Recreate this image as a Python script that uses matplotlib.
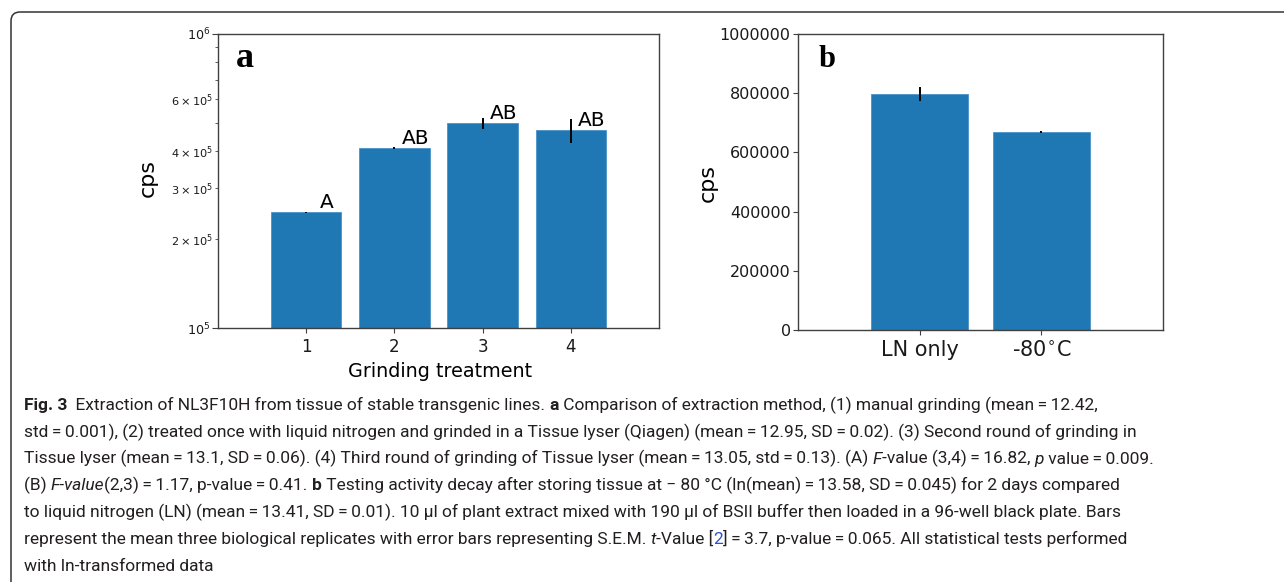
import matplotlib
matplotlib.use('Agg')
import matplotlib.pyplot as plt
from matplotlib.patches import FancyBboxPatch
from matplotlib import font_manager
from matplotlib.ticker import FixedLocator, FuncFormatter

# panel a: grinding treatments (log scale)
a_treatments = [1, 2, 3, 4]
a_means = [248000, 410000, 497000, 470000]
a_errors = [1000, 4000, 22000, 45000]
a_letters = ['A', 'AB', 'AB', 'AB']

# panel b: storage
b_labels = ['LN only', '-80$^{\\circ}$C']
b_means = [797000, 668000]
b_errors = [24500, 4000]
b_yticks = [0, 200000, 400000, 600000, 800000, 1000000]

W, H = 1284, 582
fig = plt.figure(figsize=(W / 100, H / 100), dpi=100)

BLUE = '#1f77b4'
SPINE = '#404040'

# ---- panel a ----
axa = fig.add_axes([218 / W, 1 - 328 / H, 441 / W, 294 / H])
axa.bar(a_treatments, a_means, width=0.8, color=BLUE, edgecolor='#4a92c8', linewidth=0.6)
axa.errorbar(a_treatments, a_means, yerr=a_errors, fmt='none', ecolor='black', elinewidth=1.4)
for x, y, lab in zip(a_treatments, a_means, a_letters):
    axa.text(x + 0.235, y, lab, ha='center', va='bottom', fontsize=14.5)
axa.set_yscale('log')
axa.set_ylim(1e5, 1e6)
axa.set_xlim(0, 5)
axa.set_xticks(a_treatments)
axa.tick_params(axis='x', labelsize=12)
axa.tick_params(axis='y', which='major', labelsize=9.2, length=4, pad=1.5)
axa.tick_params(axis='y', which='minor', labelsize=8.2, length=2.2, pad=1.5)
axa.set_xlabel('Grinding treatment', fontsize=13.8)
axa.set_ylabel('cps', fontsize=16)
axa.xaxis.set_label_coords(0.503, -0.115)
axa.yaxis.set_label_coords(-0.136, 0.51)
axa.text(0.041, 0.889, 'a', transform=axa.transAxes, fontsize=26, fontweight='bold',
         family=['Liberation Serif', 'DejaVu Serif'], ha='left', va='baseline')

# ---- panel b ----
axb = fig.add_axes([798 / W, 1 - 330 / H, 365 / W, 296 / H])
xb = list(range(len(b_labels)))
axb.bar(xb, b_means, width=0.8, color=BLUE, edgecolor='#4a92c8', linewidth=0.6)
axb.errorbar(xb, b_means, yerr=b_errors, fmt='none', ecolor='black', elinewidth=1.4)
axb.set_xlim(-1, 2)
axb.set_ylim(0, 1000000)
axb.set_xticks(xb)
axb.set_xticklabels(b_labels, fontsize=15)
axb.yaxis.set_major_locator(FixedLocator(b_yticks))
axb.yaxis.set_major_formatter(FuncFormatter(lambda v, p: '%d' % v))
axb.tick_params(axis='y', labelsize=11.5, pad=1.8)
axb.set_ylabel('cps', fontsize=16)
axb.yaxis.set_label_coords(-0.219, 0.497)
axb.text(0.055, 0.889, 'b', transform=axb.transAxes, fontsize=22, fontweight='bold',
         family=['Liberation Serif', 'DejaVu Serif'], ha='left', va='baseline')

for ax in (axa, axb):
    for s in ax.spines.values():
        s.set_color(SPINE)
        s.set_linewidth(1.0)
    ax.tick_params(which='both', color=SPINE, labelcolor='#1a1a1a')

# ---- frame round the figure (cut off at right and bottom) ----
frame = FancyBboxPatch((11 / 100, -0.5), 14.0, (H - 12) / 100 + 0.5,
                       boxstyle='round,pad=0,rounding_size=0.09',
                       transform=fig.dpi_scale_trans, fill=False,
                       edgecolor='#333333', linewidth=1.1, clip_on=False)
fig.add_artist(frame)

# ---- caption ----
installed = {f.name for f in font_manager.fontManager.ttflist}
cap_font = 'Roboto'
for cand in ['Liberation Sans Narrow', 'Roboto', 'Lato']:
    if cand in installed:
        cap_font = cand
        break
cap_family = [cap_font, 'DejaVu Sans']

R = {}
B = {'fontweight': 'bold'}
I = {'fontstyle': 'italic'}
L = {'color': '#2d4fd6'}
eq = '\u2009=\u2009'
caption_lines = [
    [('Fig. 3', B), ('  Extraction of NL3F10H from tissue of stable transgenic lines. ', R), ('a', B),
     (' Comparison of extraction method, (1) manual grinding (mean' + eq + '12.42,', R)],
    [('std' + eq + '0.001), (2) treated once with liquid nitrogen and grinded in a Tissue lyser (Qiagen) (mean'
      + eq + '12.95, SD' + eq + '0.02). (3) Second round of grinding in', R)],
    [('Tissue lyser (mean' + eq + '13.1, SD' + eq + '0.06). (4) Third round of grinding of Tissue lyser (mean'
      + eq + '13.05, std' + eq + '0.13). (A) ', R), ('F', I), ('-value (3,4)' + eq + '16.82, ', R), ('p', I),
     (' value' + eq + '0.009.', R)],
    [('(B) ', R), ('F-value', I), ('(2,3)' + eq + '1.17, p-value' + eq + '0.41. ', R), ('b', B),
     (' Testing activity decay after storing tissue at \u2212 80 \u00b0C (ln(mean)' + eq + '13.58, SD' + eq
      + '0.045) for 2 days compared', R)],
    [('to liquid nitrogen (LN) (mean' + eq + '13.41, SD' + eq + '0.01). 10 \u00b5l of plant extract mixed with 190 '
      '\u00b5l of BSII buffer then loaded in a 96-well black plate. Bars', R)],
    [('represent the mean three biological replicates with error bars representing S.E.M. ', R), ('t', I),
     ('-Value [', R), ('2', L), (']' + eq + '3.7, p-value' + eq + '0.065. All statistical tests performed', R)],
    [('with ln-transformed data', R)],
]

renderer = fig.canvas.get_renderer()


def seg_width(txt, size, kw):
    # width including spaces: measure between two bars
    t1 = fig.text(0, 0, '|' + txt + '|', fontsize=size, family=cap_family, **kw)
    t2 = fig.text(0, 0, '||', fontsize=size, family=cap_family, **kw)
    w = t1.get_window_extent(renderer).width - t2.get_window_extent(renderer).width
    t1.remove()
    t2.remove()
    return w


# fit the font size so line 2 spans the same width as in the reference
w10 = sum(seg_width(t, 10, kw) for t, kw in caption_lines[1])
cap_size = 10 * (1142 - 24) / w10

x0 = 24
y_first = 410
line_step = 26.8
for i, segs in enumerate(caption_lines):
    x = x0
    y = y_first + i * line_step
    for txt, kw in segs:
        fig.text(x / W, 1 - y / H, txt, fontsize=cap_size, family=cap_family,
                 ha='left', va='baseline', color=kw.get('color', '#231f20'),
                 **{k: v for k, v in kw.items() if k != 'color'})
        x += seg_width(txt, cap_size, kw)

fig.savefig('out.png', dpi=100)
